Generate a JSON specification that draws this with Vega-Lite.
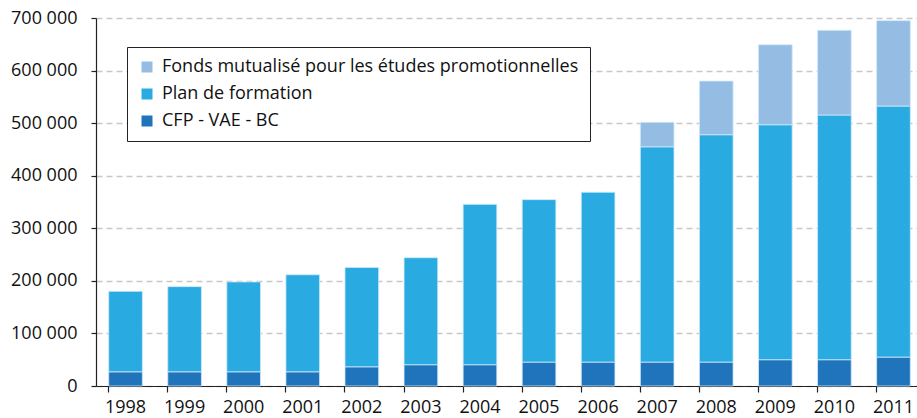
{
  "$schema": "https://vega.github.io/schema/vega-lite/v6.json",
  "autosize": "none",
  "padding": {"left": 96, "top": 18, "right": 0, "bottom": 32},
  "width": 827,
  "height": 368,
  "background": "white",
  "config": {
    "font": "Open Sans",
    "view": {"stroke": null},
    "axis": {"labelFont": "Open Sans", "labelFontSize": 18, "labelColor": "#111", "domainColor": "#222", "tickColor": "#222", "domainWidth": 1.2, "tickWidth": 1.2}
  },
  "data": {
    "values": [
      {"year": "1998", "serie": "CFP - VAE - BC", "rank": 1, "value": 27000},
      {"year": "1998", "serie": "Plan de formation", "rank": 2, "value": 153000},
      {"year": "1999", "serie": "CFP - VAE - BC", "rank": 1, "value": 27000},
      {"year": "1999", "serie": "Plan de formation", "rank": 2, "value": 162000},
      {"year": "2000", "serie": "CFP - VAE - BC", "rank": 1, "value": 27000},
      {"year": "2000", "serie": "Plan de formation", "rank": 2, "value": 171000},
      {"year": "2001", "serie": "CFP - VAE - BC", "rank": 1, "value": 27000},
      {"year": "2001", "serie": "Plan de formation", "rank": 2, "value": 184500},
      {"year": "2002", "serie": "CFP - VAE - BC", "rank": 1, "value": 36500},
      {"year": "2002", "serie": "Plan de formation", "rank": 2, "value": 189000},
      {"year": "2003", "serie": "CFP - VAE - BC", "rank": 1, "value": 40500},
      {"year": "2003", "serie": "Plan de formation", "rank": 2, "value": 203500},
      {"year": "2004", "serie": "CFP - VAE - BC", "rank": 1, "value": 40500},
      {"year": "2004", "serie": "Plan de formation", "rank": 2, "value": 305000},
      {"year": "2005", "serie": "CFP - VAE - BC", "rank": 1, "value": 45500},
      {"year": "2005", "serie": "Plan de formation", "rank": 2, "value": 309000},
      {"year": "2006", "serie": "CFP - VAE - BC", "rank": 1, "value": 45500},
      {"year": "2006", "serie": "Plan de formation", "rank": 2, "value": 323000},
      {"year": "2007", "serie": "CFP - VAE - BC", "rank": 1, "value": 45500},
      {"year": "2007", "serie": "Plan de formation", "rank": 2, "value": 409500},
      {"year": "2007", "serie": "Fonds mutualisé pour les études promotionnelles", "rank": 3, "value": 46500},
      {"year": "2008", "serie": "CFP - VAE - BC", "rank": 1, "value": 45500},
      {"year": "2008", "serie": "Plan de formation", "rank": 2, "value": 432500},
      {"year": "2008", "serie": "Fonds mutualisé pour les études promotionnelles", "rank": 3, "value": 102000},
      {"year": "2009", "serie": "CFP - VAE - BC", "rank": 1, "value": 50000},
      {"year": "2009", "serie": "Plan de formation", "rank": 2, "value": 447000},
      {"year": "2009", "serie": "Fonds mutualisé pour les études promotionnelles", "rank": 3, "value": 152000},
      {"year": "2010", "serie": "CFP - VAE - BC", "rank": 1, "value": 50000},
      {"year": "2010", "serie": "Plan de formation", "rank": 2, "value": 465500},
      {"year": "2010", "serie": "Fonds mutualisé pour les études promotionnelles", "rank": 3, "value": 161000},
      {"year": "2011", "serie": "CFP - VAE - BC", "rank": 1, "value": 55000},
      {"year": "2011", "serie": "Plan de formation", "rank": 2, "value": 477500},
      {"year": "2011", "serie": "Fonds mutualisé pour les études promotionnelles", "rank": 3, "value": 162500}
    ]
  },
  "mark": {"type": "bar", "stroke": "#cfeafa", "strokeWidth": 0.8},
  "encoding": {
    "x": {
      "field": "year",
      "type": "ordinal",
      "scale": {"paddingInner": 0.43, "paddingOuter": 0.215},
      "axis": {"title": null, "labelAngle": 0, "bandPosition": 0, "tickSize": 6, "labelPadding": 6, "grid": false}
    },
    "y": {
      "field": "value",
      "type": "quantitative",
      "stack": "zero",
      "scale": {"domain": [0, 700000], "nice": false},
      "axis": {
        "title": null,
        "values": [0, 100000, 200000, 300000, 400000, 500000, 600000, 700000],
        "labelExpr": "replace(format(datum.value, ','), regexp(',', 'g'), ' ')",
        "tickSize": 5,
        "labelPadding": 14,
        "grid": true,
        "gridColor": "#c8c8c8",
        "gridDash": [6, 4],
        "gridWidth": 1.3
      }
    },
    "color": {
      "field": "serie",
      "type": "nominal",
      "scale": {
        "domain": ["Fonds mutualisé pour les études promotionnelles", "Plan de formation", "CFP - VAE - BC"],
        "range": ["#95bde4", "#29aae1", "#1f74bc"]
      },
      "legend": {
        "title": null,
        "orient": "none",
        "legendX": 31,
        "legendY": 29,
        "fillColor": "white",
        "strokeColor": "#222",
        "padding": 11,
        "rowPadding": 9,
        "symbolType": "square",
        "symbolSize": 121,
        "symbolStrokeWidth": 0,
        "labelFontSize": 18,
        "labelFont": "Open Sans",
        "labelColor": "#111",
        "labelOffset": 6,
        "labelLimit": 600
      }
    },
    "order": {"field": "rank", "type": "quantitative", "sort": "ascending"}
  }
}
